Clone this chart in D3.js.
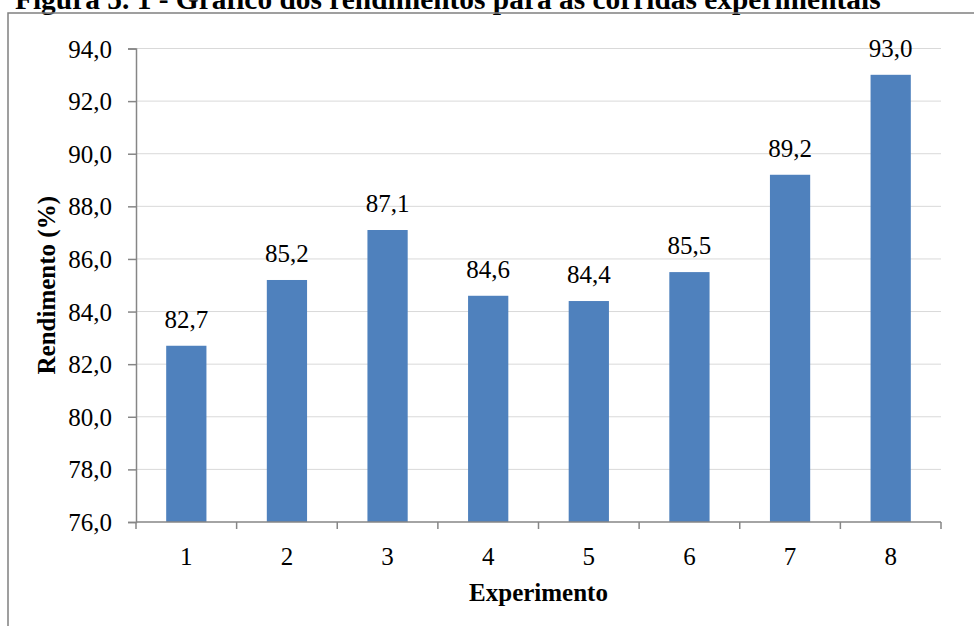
<!DOCTYPE html>
<html>
<head>
<meta charset="utf-8">
<script src="https://cdn.jsdelivr.net/npm/d3@7"></script>
<style>
  html, body { margin: 0; padding: 0; background: #fff; }
  svg { display: block; }
  svg text { font-family: "Liberation Serif", "Times New Roman", serif; }
</style>
</head>
<body>
<svg id="chart" width="974" height="626"></svg>
<script>
// Yield of each experimental run
const experiments = ["1", "2", "3", "4", "5", "6", "7", "8"];
const yields = [82.7, 85.2, 87.1, 84.6, 84.4, 85.5, 89.2, 93.0];
const yTicks = [76, 78, 80, 82, 84, 86, 88, 90, 92, 94];

const titleText = "Figura 5. 1 - Gráfico dos rendimentos para as corridas experimentais";
const xTitle = "Experimento";
const yTitle = "Rendimento (%)";

const svg = d3.select("#chart");
const serif = "'Liberation Serif', 'Times New Roman', serif";
const fmt = v => v.toFixed(1).replace(".", ",");

const W = 974, H = 626;
const margin = { left: 136, right: W - 941, top: 48.5, bottom: H - 522 };

// Figure caption (runs off the top edge of the page)
svg.append("text")
  .attr("x", 15).attr("y", 9)
  .style("font-family", serif).style("font-weight", "bold").style("font-size", "29.4px")
  .text(titleText);

// Chart frame
svg.append("rect")
  .attr("x", 8).attr("y", 13)
  .attr("width", 1000).attr("height", 700)
  .attr("fill", "none").attr("stroke", "#808080").attr("stroke-width", 1.5);

const x = d3.scaleBand()
  .domain(experiments)
  .range([margin.left, W - margin.right])
  .paddingInner(0.6).paddingOuter(0.3);

const y = d3.scaleLinear()
  .domain([76, 94])
  .range([H - margin.bottom, margin.top]);

// Horizontal gridlines
svg.append("g")
  .selectAll("line")
  .data(yTicks.filter(t => t !== 76))
  .join("line")
  .attr("x1", margin.left).attr("x2", W - margin.right)
  .attr("y1", d => y(d)).attr("y2", d => y(d))
  .attr("stroke", "#d9d9d9").attr("stroke-width", 1);

// Bars
svg.append("g")
  .selectAll("rect")
  .data(yields)
  .join("rect")
  .attr("x", (d, i) => x(experiments[i]))
  .attr("y", d => y(d))
  .attr("width", x.bandwidth())
  .attr("height", d => y(76) - y(d))
  .attr("fill", "#4f81bd");

// Value labels
svg.append("g")
  .selectAll("text")
  .data(yields)
  .join("text")
  .attr("x", (d, i) => x(experiments[i]) + x.bandwidth() / 2)
  .attr("y", d => y(d) - 18)
  .attr("text-anchor", "middle")
  .style("font-family", serif).style("font-size", "25px")
  .attr("fill", "#000")
  .text(d => fmt(d));

// Y axis
const yAxis = svg.append("g")
  .attr("transform", `translate(${margin.left},0)`)
  .call(d3.axisLeft(y).tickValues(yTicks).tickSize(8).tickPadding(16).tickFormat(fmt));
yAxis.attr("font-family", null).attr("font-size", null);
yAxis.selectAll("line, path").attr("stroke", "#868686").attr("stroke-width", 1.5);
yAxis.selectAll("text")
  .style("font-family", serif).style("font-size", "25px").attr("fill", "#000")
  .attr("dy", "0.34em");

// X axis: baseline with ticks on category boundaries
const xAxisG = svg.append("g")
  .attr("transform", `translate(0,${y(76)})`);
xAxisG.append("line")
  .attr("x1", margin.left).attr("x2", W - margin.right)
  .attr("stroke", "#868686").attr("stroke-width", 1.5);
const boundary = i => x.range()[0] + i * x.step() * 1 + (x.paddingOuter() - x.paddingInner() / 2) * x.step() * 0;
const span = (x.range()[1] - x.range()[0]) / experiments.length;
xAxisG.selectAll("line.tick")
  .data(d3.range(experiments.length + 1))
  .join("line")
  .attr("class", "tick")
  .attr("x1", i => margin.left + i * span)
  .attr("x2", i => margin.left + i * span)
  .attr("y1", 0).attr("y2", 7)
  .attr("stroke", "#868686").attr("stroke-width", 1.5);
xAxisG.selectAll("text")
  .data(experiments)
  .join("text")
  .attr("x", d => x(d) + x.bandwidth() / 2)
  .attr("y", 43)
  .attr("text-anchor", "middle")
  .style("font-family", serif).style("font-size", "25px").attr("fill", "#000")
  .text(d => d);

// Axis titles
svg.append("text")
  .attr("x", (margin.left + W - margin.right) / 2)
  .attr("y", 601)
  .attr("text-anchor", "middle")
  .style("font-family", serif).style("font-weight", "bold").style("font-size", "25px")
  .text(xTitle);

svg.append("text")
  .attr("transform", `translate(55,${(y(94) + y(76)) / 2}) rotate(-90)`)
  .attr("text-anchor", "middle")
  .style("font-family", serif).style("font-weight", "bold").style("font-size", "25px")
  .text(yTitle);
</script>
</body>
</html>
